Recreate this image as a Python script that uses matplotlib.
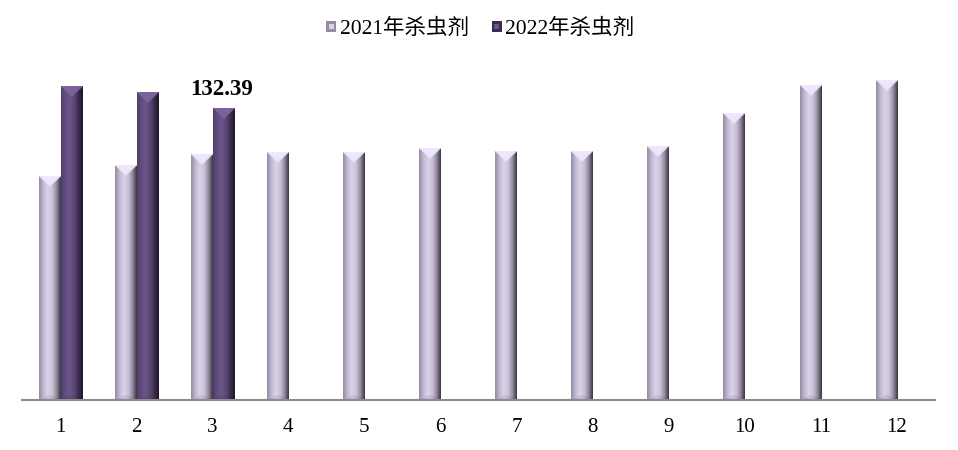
import numpy as np
import matplotlib
matplotlib.use("Agg")
import matplotlib.pyplot as plt
from matplotlib.patches import Rectangle
from matplotlib.legend_handler import HandlerBase

months = ["1", "2", "3", "4", "5", "6", "7", "8", "9", "10", "11", "12"]
values_2021 = [101.5, 106.5, 111.5, 112.4, 112.4, 114.2, 112.8, 112.8, 115.1, 130.1, 142.9, 145.1]
values_2022 = [142.4, 139.7, 132.39]
series_names = ["2021年杀虫剂", "2022年杀虫剂"]
label_value = "132.39"

W, H, DPI = 958, 450, 100
fig = plt.figure(figsize=(W / DPI, H / DPI), dpi=DPI)
ax_left, ax_right = 22 / W, 935 / W
ax_bottom = 50 / H
ax_top = 48 / H
ax = fig.add_axes([ax_left, ax_bottom, ax_right - ax_left, 1 - ax_top - ax_bottom])
YMAX = 160
ax.set_xlim(0.5, len(months) + 0.5)
ax.set_ylim(0, YMAX)

light_stops = np.array([[150, 140, 165], [195, 185, 210], [218, 210, 232], [205, 195, 220],
                        [150, 140, 160], [60, 55, 68]]) / 255
dark_stops = np.array([[80, 62, 105], [98, 78, 128], [105, 85, 135], [90, 72, 118],
                       [60, 45, 80], [30, 22, 38]]) / 255
light_top = np.array([240, 232, 252]) / 255
dark_top = np.array([125, 100, 160]) / 255

ax_px_h = (1 - ax_top - ax_bottom) * H
px_per_unit = ax_px_h / YMAX


def bar_image(height, stops, topcol, ncols=42):
    nrows = max(int(round(height * px_per_unit * 2)), 2)
    pos = np.linspace(0, 1, len(stops))
    xs = np.linspace(0, 1, ncols)
    row = np.stack([np.interp(xs, pos, stops[:, c]) for c in range(3)], axis=1)
    img = np.repeat(row[None, :, :], nrows, axis=0)
    d = ncols // 2
    cx = (ncols - 1) / 2
    for r in range(min(d, nrows)):
        half = (d - r) / d * (ncols / 2)
        mask = np.abs(np.arange(ncols) - cx) < half
        img[r, mask] = topcol * (1 - 0.15 * r / d) + 0.15 * r / d * row[mask]
    for r in range(min(d // 2, nrows)):
        rr = nrows - 1 - r
        half = (d // 2 - r) / (d // 2) * (ncols / 2)
        mask = np.abs(np.arange(ncols) - cx) < half
        img[rr, mask] = img[rr, mask] * 0.92
    return img


bw = 0.28
x = np.arange(1, len(months) + 1)
for i, v in enumerate(values_2021):
    x0 = x[i] - bw
    ax.imshow(bar_image(v, light_stops, light_top), extent=(x0, x0 + bw, 0, v),
              aspect="auto", interpolation="bilinear", zorder=2)
for i, v in enumerate(values_2022):
    x0 = x[i] + 0.01
    ax.imshow(bar_image(v, dark_stops, dark_top), extent=(x0, x0 + bw, 0, v),
              aspect="auto", interpolation="bilinear", zorder=2)
ax.set_xlim(0.5, len(months) + 0.5)
ax.set_ylim(0, YMAX)

ax.text(x[2] + 0.01 + bw / 2 - 0.03, values_2022[2] + 3.8, label_value, ha="center", va="bottom",
        fontsize=16.5, fontweight="bold", family="Liberation Serif")

for s in ["top", "right", "left"]:
    ax.spines[s].set_visible(False)
ax.spines["bottom"].set_color("#8c8c8c")
ax.spines["bottom"].set_linewidth(1.5)
ax.set_yticks([])
ax.set_xticks(x)
ax.set_xticklabels(months, fontsize=15, family="Liberation Serif")
ax.tick_params(axis="x", length=0, pad=13)


class GradHandler(HandlerBase):
    def __init__(self, stops, topcol):
        super().__init__()
        self.stops = stops
        self.topcol = topcol

    def create_artists(self, legend, orig_handle, xdescent, ydescent, width, height, fontsize, trans):
        s = height * 0.7
        x0 = xdescent + width - s
        y0 = -ydescent + (height - s) / 2
        outer = Rectangle((x0, y0), s, s, facecolor=self.stops[4], edgecolor="none", transform=trans)
        inner = Rectangle((x0 + s * 0.25, y0 + s * 0.25), s * 0.5, s * 0.5,
                          facecolor=self.stops[2], edgecolor="none", transform=trans)
        return [outer, inner]


h1 = Rectangle((0, 0), 1, 1)
h2 = Rectangle((0, 0), 1, 1)
leg = fig.legend([h1, h2], series_names, loc="center", bbox_to_anchor=(0.5, 1 - 29 / H),
                 ncol=2, frameon=False, handlelength=0.6, handletextpad=0.15, columnspacing=0.95,
                 prop={"family": ["Liberation Serif", "Noto Sans CJK SC"], "size": 15.5},
                 handler_map={h1: GradHandler(light_stops, light_top),
                              h2: GradHandler(dark_stops, dark_top)})

fig.savefig("out.png", dpi=DPI)
